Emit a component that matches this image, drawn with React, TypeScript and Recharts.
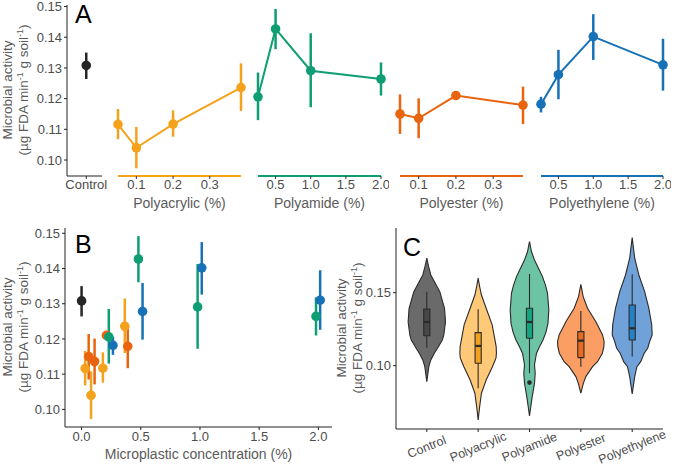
import { LineChart, Line, XAxis, YAxis, ErrorBar, ScatterChart, Scatter } from "recharts";

const FONT = "'Liberation Sans', Arial, Helvetica, sans-serif";
const TICK = "#4d4d4d";
const TITLE = "#5a5a5a";

// colours per treatment
const CONTROL_COL = "#262626";
const ACRYLIC_COL = "#F4A21C";
const AMIDE_COL = "#0F9E74";
const ESTER_COL = "#E8640E";
const ETHYLENE_COL = "#1671B6";

// panel A / B: mean microbial activity with error range
const controlMean = 0.1308;
const controlLow = 0.1264;
const controlHigh = 0.135;

const acrylicConc = [0.05, 0.1, 0.2, 0.385];
const acrylicMean = [0.1116, 0.104, 0.1117, 0.1236];
const acrylicLow = [0.1068, 0.0973, 0.1076, 0.116];
const acrylicHigh = [0.1166, 0.1108, 0.1162, 0.1315];

const amideConc = [0.25, 0.5, 1.0, 2.0];
const amideMean = [0.1206, 0.1427, 0.1291, 0.1264];
const amideLow = [0.113, 0.1361, 0.1172, 0.121];
const amideHigh = [0.1285, 0.1492, 0.1413, 0.1318];

const esterConc = [0.05, 0.1, 0.2, 0.38];
const esterMean = [0.115, 0.1136, 0.121, 0.1179];
const esterLow = [0.1085, 0.1071, 0.1206, 0.1117];
const esterHigh = [0.1214, 0.1201, 0.1214, 0.1239];

const ethyleneConc = [0.25, 0.5, 1.0, 2.0];
const ethyleneMean = [0.1182, 0.1278, 0.1402, 0.131];
const ethyleneLow = [0.1155, 0.1198, 0.1326, 0.1226];
const ethyleneHigh = [0.1206, 0.1359, 0.1475, 0.1395];

// horizontal dodge used in panel B
const acrylicDodge = -0.02;
const amideDodge = -0.02;
const esterDodge = 0.01;
const ethyleneDodge = 0.015;

const fibreTicks = [0.1, 0.2, 0.3];
const fragmentTicks = [0.5, 1.0, 1.5, 2.0];
const activityTicks = [0.1, 0.11, 0.12, 0.13, 0.14, 0.15];
const concTicks = [0, 0.5, 1.0, 1.5, 2.0];

// panel C: violin profiles [activity, half width] and box stats [lo, q1, median, q3, hi]
const categories = ["Control", "Polyacrylic", "Polyamide", "Polyester", "Polyethylene"];
const controlViolin = [
  [0.089, 0], [0.0993, 0.039], [0.1039, 0.078], [0.1085, 0.146], [0.1119, 0.208], [0.1176, 0.302],
  [0.121, 0.331], [0.1301, 0.364], [0.1393, 0.345], [0.1507, 0.253], [0.1621, 0.078], [0.168, 0.035], [0.1736, 0],
];
const acrylicViolin = [
  [0.0628, 0], [0.0719, 0.029], [0.0811, 0.064], [0.0902, 0.156], [0.0993, 0.278], [0.1051, 0.347],
  [0.1085, 0.356], [0.113, 0.351], [0.1176, 0.327], [0.1279, 0.273], [0.1393, 0.156], [0.1484, 0.064],
  [0.154, 0.03], [0.1599, 0],
];
const amideViolin = [
  [0.0655, 0], [0.0719, 0.025], [0.0788, 0.053], [0.0879, 0.097], [0.0948, 0.111], [0.1005, 0.097],
  [0.1085, 0.136], [0.113, 0.195], [0.1176, 0.263], [0.123, 0.321], [0.129, 0.36], [0.1382, 0.376],
  [0.1496, 0.351], [0.155, 0.312], [0.161, 0.253], [0.1667, 0.175], [0.1724, 0.097], [0.178, 0.039], [0.1849, 0],
];
const esterViolin = [
  [0.0811, 0], [0.0879, 0.049], [0.0925, 0.097], [0.0993, 0.228], [0.1027, 0.325], [0.1085, 0.419],
  [0.113, 0.448], [0.1164, 0.454], [0.121, 0.423], [0.1301, 0.292], [0.1393, 0.13], [0.1473, 0.045], [0.1557, 0],
];
const ethyleneViolin = [
  [0.0806, 0], [0.0925, 0.049], [0.0993, 0.092], [0.1027, 0.166], [0.1085, 0.234], [0.1119, 0.302],
  [0.1176, 0.351], [0.121, 0.389], [0.1279, 0.38], [0.1393, 0.325], [0.1507, 0.243], [0.1621, 0.13],
  [0.1736, 0.049], [0.1877, 0],
];
const controlBox = [0.1123, 0.1205, 0.1299, 0.1388, 0.1507];
const acrylicBox = [0.0845, 0.1016, 0.1135, 0.1226, 0.1386];
const amideBox = [0.0948, 0.1188, 0.1299, 0.1393, 0.1628];
const esterBox = [0.0993, 0.1055, 0.1171, 0.1233, 0.1375];
const ethyleneBox = [0.1062, 0.1176, 0.1256, 0.1416, 0.1626];
const amideOutliers = [0.0884];
const cTicks = [0.1, 0.15];

const violinFills = ["#6A6A6A", "#FFC978", "#6CC4A5", "#FB9E63", "#70A2D9"];
const boxFills = ["#474747", "#F0A21E", "#14A27F", "#E86B20", "#2481C6"];

const A_DOMAIN = [0.0948, 0.1505];
const B_DOMAIN = [0.095, 0.1515];
const C_DOMAIN = [0.0566, 0.1943];

const tickStyle = { fontSize: 13, fill: TICK, fontFamily: FONT };

function rows(conc: number[], mean: number[], low: number[], high: number[], dodge = 0) {
  return conc.map((c, i) => ({ x: c + dodge, y: mean[i], err: [mean[i] - low[i], high[i] - mean[i]] }));
}

function GroupA(props: {
  name: string; conc: number[]; mean: number[]; low: number[]; high: number[];
  color: string; x0: number; x1: number; ticks: number[];
}) {
  const { name, conc, mean, low, high, color, x0, x1, ticks } = props;
  const pad = 8;
  return (
    <div style={{ position: "absolute", left: x0 - pad, top: 0 }}>
      <LineChart
        width={x1 - x0 + 2 * pad}
        height={211}
        data={rows(conc, mean, low, high)}
        margin={{ top: 5, right: pad, bottom: 0, left: pad }}
      >
        <XAxis
          type="number"
          dataKey="x"
          domain={[conc[0], conc[conc.length - 1]]}
          ticks={ticks}
          interval={0}
          tickFormatter={(v: number) => v.toFixed(1)}
          axisLine={{ stroke: color, strokeWidth: 2 }}
          tickLine={{ stroke: "#333" }}
          tickSize={3}
          tickMargin={1}
          tick={tickStyle}
          height={35}
          label={{ value: `${name} (%)`, position: "insideBottom", offset: 3, fontSize: 14, fill: TITLE, fontFamily: FONT }}
        />
        <YAxis hide type="number" domain={A_DOMAIN} />
        <Line
          dataKey="y"
          stroke={color}
          strokeWidth={2}
          dot={{ r: 4.8, fill: color, stroke: color, strokeWidth: 0 }}
          isAnimationActive={false}
        >
          <ErrorBar dataKey="err" width={0} stroke={color} strokeWidth={2.5} direction="y" />
        </Line>
      </LineChart>
    </div>
  );
}

function YTitle({ cx, cy }: { cx: number; cy: number }) {
  const sup = { fontSize: 9, verticalAlign: "5px", lineHeight: 0 } as const;
  return (
    <div
      style={{
        position: "absolute", left: cx, top: cy,
        transform: "translate(-50%, -50%) rotate(-90deg)",
        whiteSpace: "nowrap", textAlign: "center", color: TITLE,
        fontFamily: FONT, fontSize: 13.5, lineHeight: "16px",
      }}
    >
      <div>Microbial activity</div>
      <div>
        (µg FDA min<span style={sup}>-1</span> g soil<span style={sup}>-1</span>)
      </div>
    </div>
  );
}

function PanelLetter({ letter, left, top }: { letter: string; left: number; top: number }) {
  return (
    <div style={{ position: "absolute", left, top, fontFamily: FONT, fontSize: 25, lineHeight: 1, color: "#000" }}>
      {letter}
    </div>
  );
}

const dot = (color: string) => (p: any) => <circle cx={p.cx} cy={p.cy} r={4.8} fill={color} />;
const noShape = () => <g />;

const bGroups = [
  { key: "control", color: CONTROL_COL, data: rows([0], [controlMean], [controlLow], [controlHigh]) },
  { key: "acrylic", color: ACRYLIC_COL, data: rows(acrylicConc, acrylicMean, acrylicLow, acrylicHigh, acrylicDodge) },
  { key: "ester", color: ESTER_COL, data: rows(esterConc, esterMean, esterLow, esterHigh, esterDodge) },
  { key: "amide", color: AMIDE_COL, data: rows(amideConc, amideMean, amideLow, amideHigh, amideDodge) },
  { key: "ethylene", color: ETHYLENE_COL, data: rows(ethyleneConc, ethyleneMean, ethyleneLow, ethyleneHigh, ethyleneDodge) },
];

const violins = [controlViolin, acrylicViolin, amideViolin, esterViolin, ethyleneViolin];
const boxes = [controlBox, acrylicBox, amideBox, esterBox, ethyleneBox];
const outliers = [[], [], amideOutliers, [], []];
const BOX_HALF = 0.06;

function outline(i: number, profile: number[][]) {
  const right = profile.map(([v, w]) => ({ x: i + w, y: v }));
  const left = [...profile].reverse().map(([v, w]) => ({ x: i - w, y: v }));
  return [...right, ...left, right[0]];
}

function boxShape(i: number, s: number[]) {
  return [
    { x: i - BOX_HALF, y: s[1] }, { x: i + BOX_HALF, y: s[1] },
    { x: i + BOX_HALF, y: s[3] }, { x: i - BOX_HALF, y: s[3] }, { x: i - BOX_HALF, y: s[1] },
  ];
}

const CTick = (props: any) => {
  const { x, y, payload } = props;
  const cy = y + 13;
  return (
    <text
      x={x} y={cy} textAnchor="middle" dominantBaseline="central"
      transform={`rotate(-22, ${x}, ${cy})`}
      fontSize={12.5} fill={TICK} fontFamily={FONT}
    >
      {categories[payload.value]}
    </text>
  );
};

export default function App() {
  const edge = "#2b2b2b";
  return (
    <div style={{ position: "absolute", left: 0, top: 0, width: 674, height: 466, background: "#fff", overflow: "hidden" }}>
      {/* Panel A */}
      <div style={{ position: "absolute", left: 0, top: 0 }}>
        <LineChart
          width={110}
          height={211}
          data={rows([0], [controlMean], [controlLow], [controlHigh])}
          margin={{ top: 5, right: 8, bottom: 0, left: 0 }}
        >
          <XAxis
            type="number" dataKey="x" domain={[-0.55, 0.45]} ticks={[0]}
            tickFormatter={() => "Control"}
            axisLine={{ stroke: "#222" }} tickLine={{ stroke: "#222" }}
            tickSize={3} tickMargin={1} tick={tickStyle} height={35}
          />
          <YAxis
            type="number" domain={A_DOMAIN} ticks={activityTicks} interval={0}
            tickFormatter={(v: number) => v.toFixed(2)} width={67}
            axisLine={{ stroke: "#222" }} tickLine={{ stroke: "#222" }}
            tickSize={3} tickMargin={2} tick={tickStyle}
          />
          <Line
            dataKey="y" stroke={CONTROL_COL} strokeWidth={2}
            dot={{ r: 4.8, fill: CONTROL_COL, stroke: CONTROL_COL, strokeWidth: 0 }}
            isAnimationActive={false}
          >
            <ErrorBar dataKey="err" width={0} stroke={CONTROL_COL} strokeWidth={2.5} direction="y" />
          </Line>
        </LineChart>
      </div>
      <GroupA name="Polyacrylic" conc={acrylicConc} mean={acrylicMean} low={acrylicLow} high={acrylicHigh}
        color={ACRYLIC_COL} x0={118} x1={241} ticks={fibreTicks} />
      <GroupA name="Polyamide" conc={amideConc} mean={amideMean} low={amideLow} high={amideHigh}
        color={AMIDE_COL} x0={258} x1={381} ticks={fragmentTicks} />
      <GroupA name="Polyester" conc={esterConc} mean={esterMean} low={esterLow} high={esterHigh}
        color={ESTER_COL} x0={400} x1={523} ticks={fibreTicks} />
      <GroupA name="Polyethylene" conc={ethyleneConc} mean={ethyleneMean} low={ethyleneLow} high={ethyleneHigh}
        color={ETHYLENE_COL} x0={541} x1={663} ticks={fragmentTicks} />
      <YTitle cx={16} cy={90} />
      <PanelLetter letter="A" left={75} top={2} />

      {/* Panel B */}
      <div style={{ position: "absolute", left: 0, top: 218 }}>
        <ScatterChart width={338} height={245} margin={{ top: 10, right: 6, bottom: 0, left: 0 }}>
          <XAxis
            type="number" dataKey="x" domain={[-0.14, 2.115]} ticks={concTicks} interval={0}
            tickFormatter={(v: number) => v.toFixed(1)}
            axisLine={{ stroke: "#222" }} tickLine={{ stroke: "#222" }}
            tickSize={3} tickMargin={2} tick={tickStyle} height={36}
            label={{ value: "Microplastic concentration (%)", position: "insideBottom", offset: 4, fontSize: 14, fill: TITLE, fontFamily: FONT }}
          />
          <YAxis
            type="number" dataKey="y" domain={B_DOMAIN} ticks={activityTicks} interval={0}
            tickFormatter={(v: number) => v.toFixed(2)} width={65}
            axisLine={{ stroke: "#222" }} tickLine={{ stroke: "#222" }}
            tickSize={3} tickMargin={2} tick={tickStyle}
          />
          {bGroups.map((g) => (
            <Scatter key={g.key} data={g.data} fill={g.color} shape={dot(g.color)} isAnimationActive={false}>
              <ErrorBar dataKey="err" width={0} stroke={g.color} strokeWidth={2.5} direction="y" />
            </Scatter>
          ))}
        </ScatterChart>
      </div>
      <YTitle cx={16} cy={327} />
      <PanelLetter letter="B" left={75} top={232} />

      {/* Panel C */}
      <div style={{ position: "absolute", left: 340, top: 218 }}>
        <ScatterChart width={333} height={248} margin={{ top: 10, right: 10, bottom: 0, left: 0 }}>
          <XAxis
            type="number" dataKey="x" domain={[-0.6, 4.6]} ticks={[0, 1, 2, 3, 4]} interval={0}
            axisLine={{ stroke: "#222" }} tickLine={{ stroke: "#222" }}
            tickSize={3} tickMargin={2} tick={<CTick />} height={37}
          />
          <YAxis
            type="number" dataKey="y" domain={C_DOMAIN} ticks={cTicks} interval={0}
            tickFormatter={(v: number) => v.toFixed(2)} width={56}
            axisLine={{ stroke: "#222" }} tickLine={{ stroke: "#222" }}
            tickSize={3} tickMargin={2} tick={tickStyle}
          />
          {violins.map((prof, i) => (
            <Scatter key={`v${i}`} data={outline(i, prof)} fill={violinFills[i]} shape={noShape}
              line={{ fill: violinFills[i], stroke: edge, strokeWidth: 1.1 }} isAnimationActive={false} />
          ))}
          {boxes.map((s, i) => (
            <Scatter key={`w${i}`} data={[{ x: i, y: s[0] }, { x: i, y: s[4] }]} fill={edge} shape={noShape}
              line={{ stroke: edge, strokeWidth: 1.1 }} isAnimationActive={false} />
          ))}
          {boxes.map((s, i) => (
            <Scatter key={`b${i}`} data={boxShape(i, s)} fill={boxFills[i]} shape={noShape}
              line={{ fill: boxFills[i], stroke: edge, strokeWidth: 1.1 }} isAnimationActive={false} />
          ))}
          {boxes.map((s, i) => (
            <Scatter key={`m${i}`} data={[{ x: i - BOX_HALF, y: s[2] }, { x: i + BOX_HALF, y: s[2] }]} fill={edge}
              shape={noShape} line={{ stroke: edge, strokeWidth: 2.2 }} isAnimationActive={false} />
          ))}
          {outliers.map((o, i) => (
            <Scatter key={`o${i}`} data={o.map((v) => ({ x: i, y: v }))} fill={edge}
              shape={(p: any) => <circle cx={p.cx} cy={p.cy} r={2.3} fill={edge} />} isAnimationActive={false} />
          ))}
        </ScatterChart>
      </div>
      <YTitle cx={350} cy={328} />
      <PanelLetter letter="C" left={403} top={235} />
    </div>
  );
}
